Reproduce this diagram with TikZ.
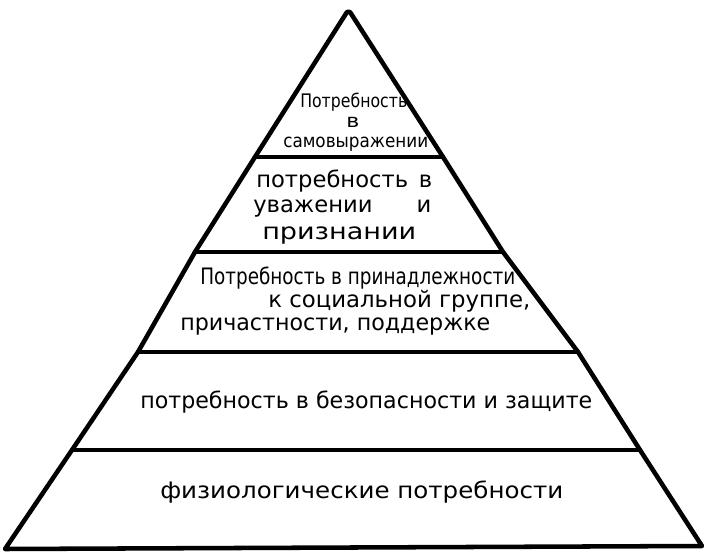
\documentclass[tikz,border=0pt]{standalone}
\usepackage{fontspec}
\setmainfont{DejaVu Sans}
\usepackage{graphicx}
\newdimen\pxu \pxu=0.75pt
\newcommand\hwtext[2]{\resizebox{#1\pxu}{\height}{#2}}
\begin{document}
\begin{tikzpicture}[x=0.75pt,y=-0.75pt,
  edge/.style={line width=3.4pt,line join=round,line cap=round},
  lbl/.style={inner sep=0pt,anchor=base west,font=\fontsize{17}{20}\selectfont},
  lbltop/.style={lbl,font=\fontsize{14}{17}\selectfont}]
\useasboundingbox (0,0) rectangle (704,556);
\fill[white] (0,0) rectangle (704,556);
% pyramid outline
\draw[edge] (5,549) -- (72,450) -- (138,352) -- (195,252) -- (255,157) -- (347,12)
  -- (350,12) -- (443,157) -- (503,252) -- (578,352) -- (640,450) -- (702,546) -- cycle;
% band separators
\draw[edge] (255,157) -- (443,157);
\draw[edge] (195,252) -- (503,252);
\draw[edge] (138,352) -- (578,352);
\draw[edge] (72,450) -- (640,450);
% level 1
\node[lbltop] (t1a) at (300,108) {\hwtext{107}{Потребность}};
\node[lbltop] (t1b) at (346,128) {\hwtext{13}{в}};
\node[lbltop] (t1c) at (283,148) {\hwtext{145}{самовыражении}};
% level 2
\node[lbl] (t2a) at (256,188) {\hbox to 176\pxu{потребность\hfill в}};
\node[lbl] (t2b) at (253,213) {\hbox to 178\pxu{уважении\hfill и}};
\node[lbl] (t2c) at (262,240) {\hwtext{154}{признании}};
% level 3
\node[lbl] (t3a) at (200,285) {\hwtext{315}{Потребность в принадлежности}};
\node[lbl] (t3b) at (268,307) {\hwtext{262}{к социальной группе,}};
\node[lbl] (t3c) at (180,330) {\hwtext{310}{причастности, поддержке}};
% level 4
\node[lbl] (t4) at (140,408) {\hwtext{452}{потребность в безопасности и защите}};
% level 5
\node[lbl] (t5) at (160,498) {\hwtext{403}{физиологические потребности}};
\end{tikzpicture}
\end{document}
